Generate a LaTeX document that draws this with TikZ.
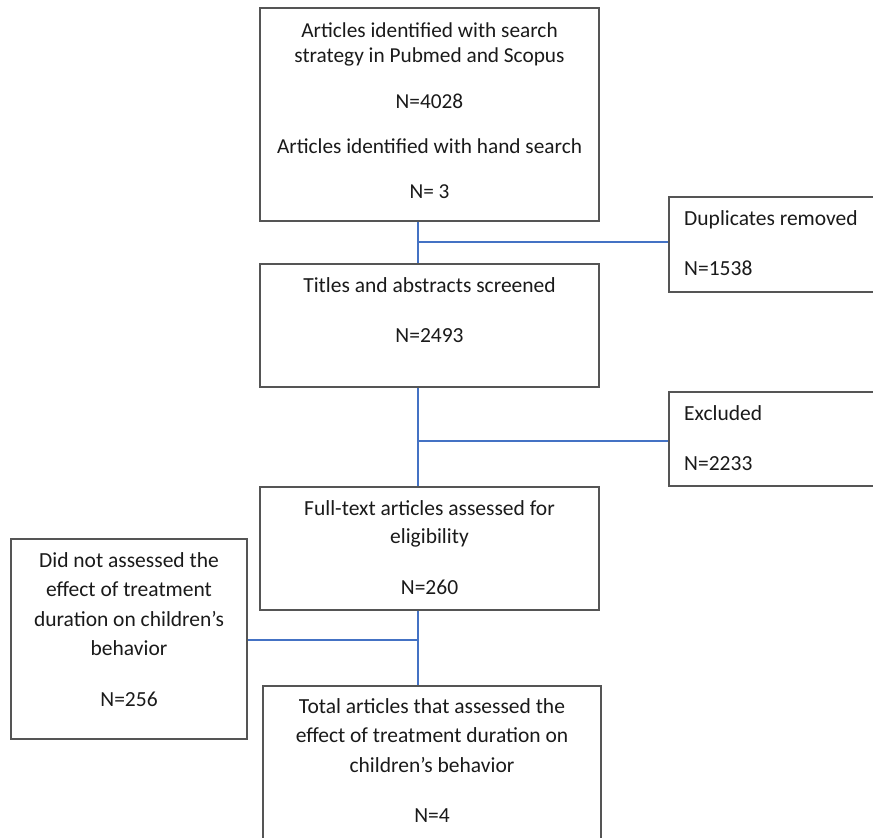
\documentclass[tikz,border=0pt]{standalone}
\usepackage{fontspec}
\setmainfont{Carlito}
\newcommand{\mycent}[1]{\begin{tabular}[t]{@{}c@{}}#1\end{tabular}}
\newcommand{\myleft}[1]{\begin{tabular}[t]{@{}l@{}}#1\end{tabular}}
\definecolor{boxgray}{HTML}{555555}
\definecolor{linkblue}{HTML}{4472C4}
\definecolor{txt}{HTML}{1A1A1A}
\tikzset{
  flowbox/.style={draw=boxgray, line width=1.2pt, inner sep=0pt, rectangle},
  flowtext/.style={inner sep=0pt, text=txt, anchor=base},
  flowltext/.style={inner sep=0pt, text=txt, anchor=base west},
  link/.style={draw=linkblue, line width=1.1pt},
  bigfont/.style={font=\fontsize{21.5}{29.5}\selectfont},
  smallfont/.style={font=\fontsize{21.3}{25.5}\selectfont}
}
\begin{document}
\begin{tikzpicture}[x=1pt,y=-1pt]
\useasboundingbox (0,0) rectangle (873,838);
% boxes
\node[flowbox, minimum width=339pt, minimum height=213pt] (b1) at (429.5,114.5) {};
\node[flowbox, minimum width=231pt, minimum height=95pt] (dup) at (784.5,244.5) {};
\node[flowbox, minimum width=339pt, minimum height=123pt] (b2) at (429.5,325.5) {};
\node[flowbox, minimum width=231pt, minimum height=94pt] (exc) at (784.5,439) {};
\node[flowbox, minimum width=339pt, minimum height=123pt] (b3) at (429.5,548.5) {};
\node[flowbox, minimum width=236pt, minimum height=200pt] (left) at (129,639) {};
\node[flowbox, minimum width=338pt, minimum height=174pt] (b4) at (432,773) {};
% texts
\node[flowtext, smallfont] (t1) at (429.5,37) {\mycent{Articles identified with search\\ strategy in Pubmed and Scopus\\[20.5pt] N=4028\\[19.5pt] Articles identified with hand search\\[19.5pt] N= 3}};
\node[flowltext, bigfont] (tdup) at (684,225) {\myleft{Duplicates removed\\[20.5pt] N=1538}};
\node[flowtext, bigfont] (t2) at (429.5,292) {\mycent{Titles and abstracts screened\\[20.5pt] N=2493}};
\node[flowltext, bigfont] (texc) at (684,420) {\myleft{Excluded\\[20.5pt] N=2233}};
\node[flowtext, font=\fontsize{21.5}{28.5}\selectfont] (t3) at (429.5,515) {\mycent{Full-text articles assessed for\\ eligibility\\[22.5pt] N=260}};
\node[flowtext, bigfont] (tleft) at (129,567) {\mycent{Did not assessed the\\ effect of treatment\\ duration on children’s\\ behavior\\[21pt] N=256}};
\node[flowtext, bigfont] (t4) at (432,713) {\mycent{Total articles that assessed the\\ effect of treatment duration on\\ children’s behavior\\[20.5pt] N=4}};
% connectors
\coordinate (j1) at (418,242);
\coordinate (j2) at (418,441);
\coordinate (j3) at (418,640);
\draw[link] (b1.south -| j1) -- (b2.north -| j1);
\draw[link] (j1) -- (j1 -| dup.west);
\draw[link] (b2.south -| j2) -- (b3.north -| j2);
\draw[link] (j2) -- (j2 -| exc.west);
\draw[link] (b3.south -| j3) -- (b4.north -| j3);
\draw[link] (j3) -- (j3 -| left.east);
\end{tikzpicture}
\end{document}
